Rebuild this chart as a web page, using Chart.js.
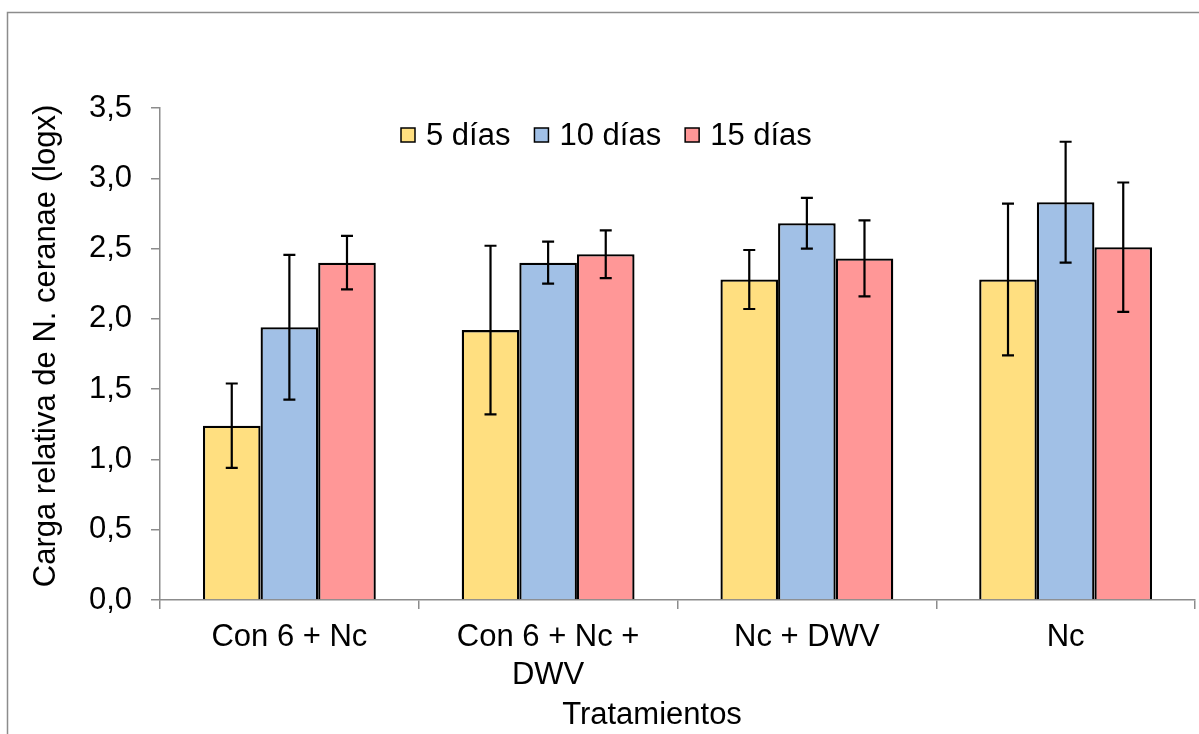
<!DOCTYPE html>
<html>
<head>
<meta charset="utf-8">
<script src="https://cdn.jsdelivr.net/npm/chart.js@4.4.1/dist/chart.umd.min.js"></script>
<style>
  html, body { margin: 0; padding: 0; background: #fff; }
  canvas { display: block; }
</style>
</head>
<body>
<canvas id="chart" width="1199" height="734"></canvas>
<script>
const categories = ["Con 6 + Nc", ["Con 6 + Nc +", "DWV"], "Nc + DWV", "Nc"];
const seriesNames = ["5 días", "10 días", "15 días"];
const dias5 = [1.24, 1.92, 2.28, 2.28];
const dias10 = [1.94, 2.40, 2.68, 2.83];
const dias15 = [2.40, 2.46, 2.43, 2.51];
const err5 = [0.30, 0.60, 0.21, 0.54];
const err10 = [0.515, 0.15, 0.18, 0.43];
const err15 = [0.19, 0.17, 0.27, 0.46];
const yTicks = [0, 0.5, 1, 1.5, 2, 2.5, 3, 3.5];

const FONT = "'Liberation Sans', Arial, sans-serif";
const colors = ["#FFDF80", "#A1C0E6", "#FF9797"];

// frame + axis titles
const decorPlugin = {
  id: "decor",
  beforeDraw(chart) {
    const ctx = chart.ctx;
    ctx.save();
    ctx.strokeStyle = "#8c8c8c";
    ctx.lineWidth = 1.5;
    ctx.strokeRect(7.5, 12.5, 1300, 900);
    ctx.restore();
  },
  afterDraw(chart) {
    const ctx = chart.ctx;
    ctx.save();
    ctx.fillStyle = "#000";
    ctx.font = "31px " + FONT;
    ctx.textAlign = "center";
    ctx.textBaseline = "alphabetic";
    ctx.fillText("Tratamientos", 652, 724);
    ctx.translate(55, 346);
    ctx.rotate(-Math.PI / 2);
    ctx.fillText("Carga relativa de N. ceranae (logx)", 0, 0);
    ctx.restore();
  }
};

// error bars drawn over all bars
const errorPlugin = {
  id: "errors",
  afterDatasetsDraw(chart) {
    const ctx = chart.ctx;
    const y = chart.scales.y;
    ctx.save();
    ctx.strokeStyle = "#000";
    ctx.lineWidth = 2.2;
    chart.data.datasets.forEach((ds, i) => {
      const meta = chart.getDatasetMeta(i);
      meta.data.forEach((bar, j) => {
        const v = ds.data[j], e = ds.errors[j];
        const top = y.getPixelForValue(v + e);
        const bot = y.getPixelForValue(v - e);
        ctx.beginPath();
        ctx.moveTo(bar.x, top); ctx.lineTo(bar.x, bot);
        ctx.moveTo(bar.x - 6, top); ctx.lineTo(bar.x + 6, top);
        ctx.moveTo(bar.x - 6, bot); ctx.lineTo(bar.x + 6, bot);
        ctx.stroke();
      });
    });
    ctx.restore();
  }
};

// legend inside the plot area
const legendPlugin = {
  id: "innerLegend",
  afterDraw(chart) {
    const ctx = chart.ctx;
    ctx.save();
    ctx.font = "31px " + FONT;
    ctx.textBaseline = "middle";
    ctx.textAlign = "left";
    let x = 401;
    const yc = 135;
    chart.data.datasets.forEach(ds => {
      ctx.fillStyle = ds.backgroundColor;
      ctx.fillRect(x, yc - 7, 14, 14);
      ctx.strokeStyle = "#000";
      ctx.lineWidth = 1.5;
      ctx.strokeRect(x, yc - 7, 14, 14);
      ctx.fillStyle = "#000";
      ctx.fillText(ds.label, x + 25, yc + 1);
      x += 25 + ctx.measureText(ds.label).width + 24;
    });
    ctx.restore();
  }
};

const makeSet = (i, data, errors) => ({
  label: seriesNames[i],
  data: data,
  errors: errors,
  backgroundColor: colors[i],
  borderColor: "#000",
  borderWidth: 2.3,
  categoryPercentage: 0.668,
  barPercentage: 1.0
});

new Chart(document.getElementById("chart"), {
  type: "bar",
  data: {
    labels: categories,
    datasets: [
      makeSet(0, dias5, err5),
      makeSet(1, dias10, err10),
      makeSet(2, dias15, err15)
    ]
  },
  options: {
    responsive: false,
    animation: false,
    layout: { padding: { top: 108, right: 4, left: 0, bottom: 0 } },
    plugins: {
      legend: { display: false },
      tooltip: { enabled: false }
    },
    scales: {
      x: {
        grid: { display: true, drawOnChartArea: false, drawTicks: true, tickLength: 9, color: "#8c8c8c", lineWidth: 1.5 },
        border: { display: true, color: "#8c8c8c", width: 1.5 },
        ticks: { color: "#000", font: { family: FONT, size: 31, lineHeight: 1.23 }, padding: 9, maxRotation: 0, autoSkip: false },
        afterFit(scale) { scale.height = 134; }
      },
      y: {
        min: 0,
        max: 3.5,
        afterBuildTicks(scale) { scale.ticks = yTicks.map(v => ({ value: v })); },
        grid: { display: true, drawOnChartArea: false, drawTicks: true, tickLength: 9, color: "#8c8c8c", lineWidth: 1.5 },
        border: { display: true, color: "#8c8c8c", width: 1.5 },
        ticks: {
          color: "#000",
          font: { family: FONT, size: 31 },
          padding: 19,
          callback: v => v.toFixed(1).replace(".", ",")
        },
        afterFit(scale) { scale.width = 160; }
      }
    }
  },
  plugins: [decorPlugin, errorPlugin, legendPlugin]
});
</script>
</body>
</html>
